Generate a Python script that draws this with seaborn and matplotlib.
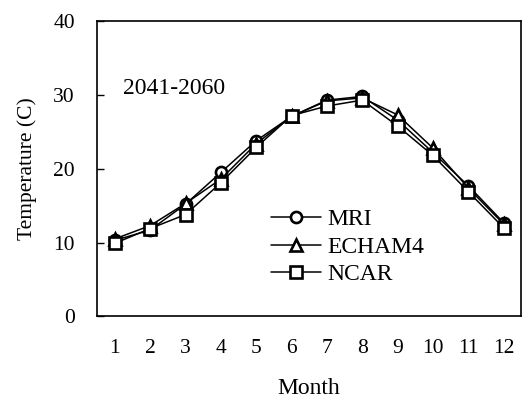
import matplotlib
matplotlib.use("Agg")
import matplotlib.pyplot as plt
import seaborn as sns
import pandas as pd

months = list(range(1, 13))
mri = [10.3, 11.7, 15.2, 19.5, 23.8, 27.1, 29.3, 29.8, 26.6, 22.2, 17.7, 12.7]
echam4 = [10.5, 12.3, 15.3, 18.6, 23.4, 27.1, 29.2, 29.6, 27.3, 22.8, 17.4, 12.5]
ncar = [9.9, 11.9, 13.8, 18.1, 22.9, 27.2, 28.5, 29.3, 25.8, 21.8, 16.9, 12.0]
series_names = ["MRI", "ECHAM4", "NCAR"]
y_ticks = [0, 10, 20, 30, 40]

df = pd.DataFrame({
    "Month": months * 3,
    "Temp": mri + echam4 + ncar,
    "Model": [n for n in series_names for _ in months],
})

sns.set_theme(style="white")
plt.rcParams["font.family"] = ["Liberation Serif", "DejaVu Serif"]
plt.rcParams["text.color"] = "black"
plt.rcParams["axes.labelcolor"] = "black"
plt.rcParams["xtick.color"] = "black"
plt.rcParams["ytick.color"] = "black"

fig = plt.figure(figsize=(5.25, 3.99), dpi=100)
ax = fig.add_axes([0.185, 0.207, 0.808, 0.740])

markers = {"MRI": "o", "ECHAM4": "^", "NCAR": "s"}
sns.lineplot(data=df, x="Month", y="Temp", hue="Model", style="Model",
             palette={n: "black" for n in series_names},
             markers=markers, dashes=False, markersize=8,
             markerfacecolor="white", markeredgecolor="black",
             markeredgewidth=1.9, linewidth=1.1, ax=ax, legend=True)

ax.set_xlim(0.5, 12.5)
ax.set_ylim(0, 40)
ax.set_yticks(y_ticks)
ax.set_yticklabels([str(v) for v in y_ticks], fontsize=15.5)
ax.set_xticks([m + 0.5 for m in months[:-1]])
ax.set_xticklabels([])
ax.set_xticks(months, minor=True)
ax.set_xticklabels([str(m) for m in months], minor=True, fontsize=15.5)
ax.tick_params(axis="x", which="major", direction="in", length=5, width=1, color="black")
ax.tick_params(axis="x", which="minor", length=0, pad=16)
ax.tick_params(axis="y", direction="in", length=5, width=1, color="black", pad=16, left=True)
for s in ax.spines.values():
    s.set_color("black")
    s.set_linewidth(1.2)

ax.set_xlabel("Month", fontsize=17, labelpad=15)
ax.set_ylabel("Temperature (C)", fontsize=15.5, labelpad=12)

ax.text(0.061, 0.773, "2041-2060", transform=ax.transAxes, fontsize=17,
        ha="left", va="center")

leg = ax.legend(loc="center left", bbox_to_anchor=(0.41, 0.235), frameon=False,
                fontsize=17, handlelength=2.1, handletextpad=0.3,
                labelspacing=0.26, borderaxespad=0, borderpad=0)
for h in leg.legend_handles:
    h.set_markerfacecolor("white")
    h.set_markeredgecolor("black")
    h.set_markeredgewidth(1.9)

fig.savefig("out.png", dpi=100)
